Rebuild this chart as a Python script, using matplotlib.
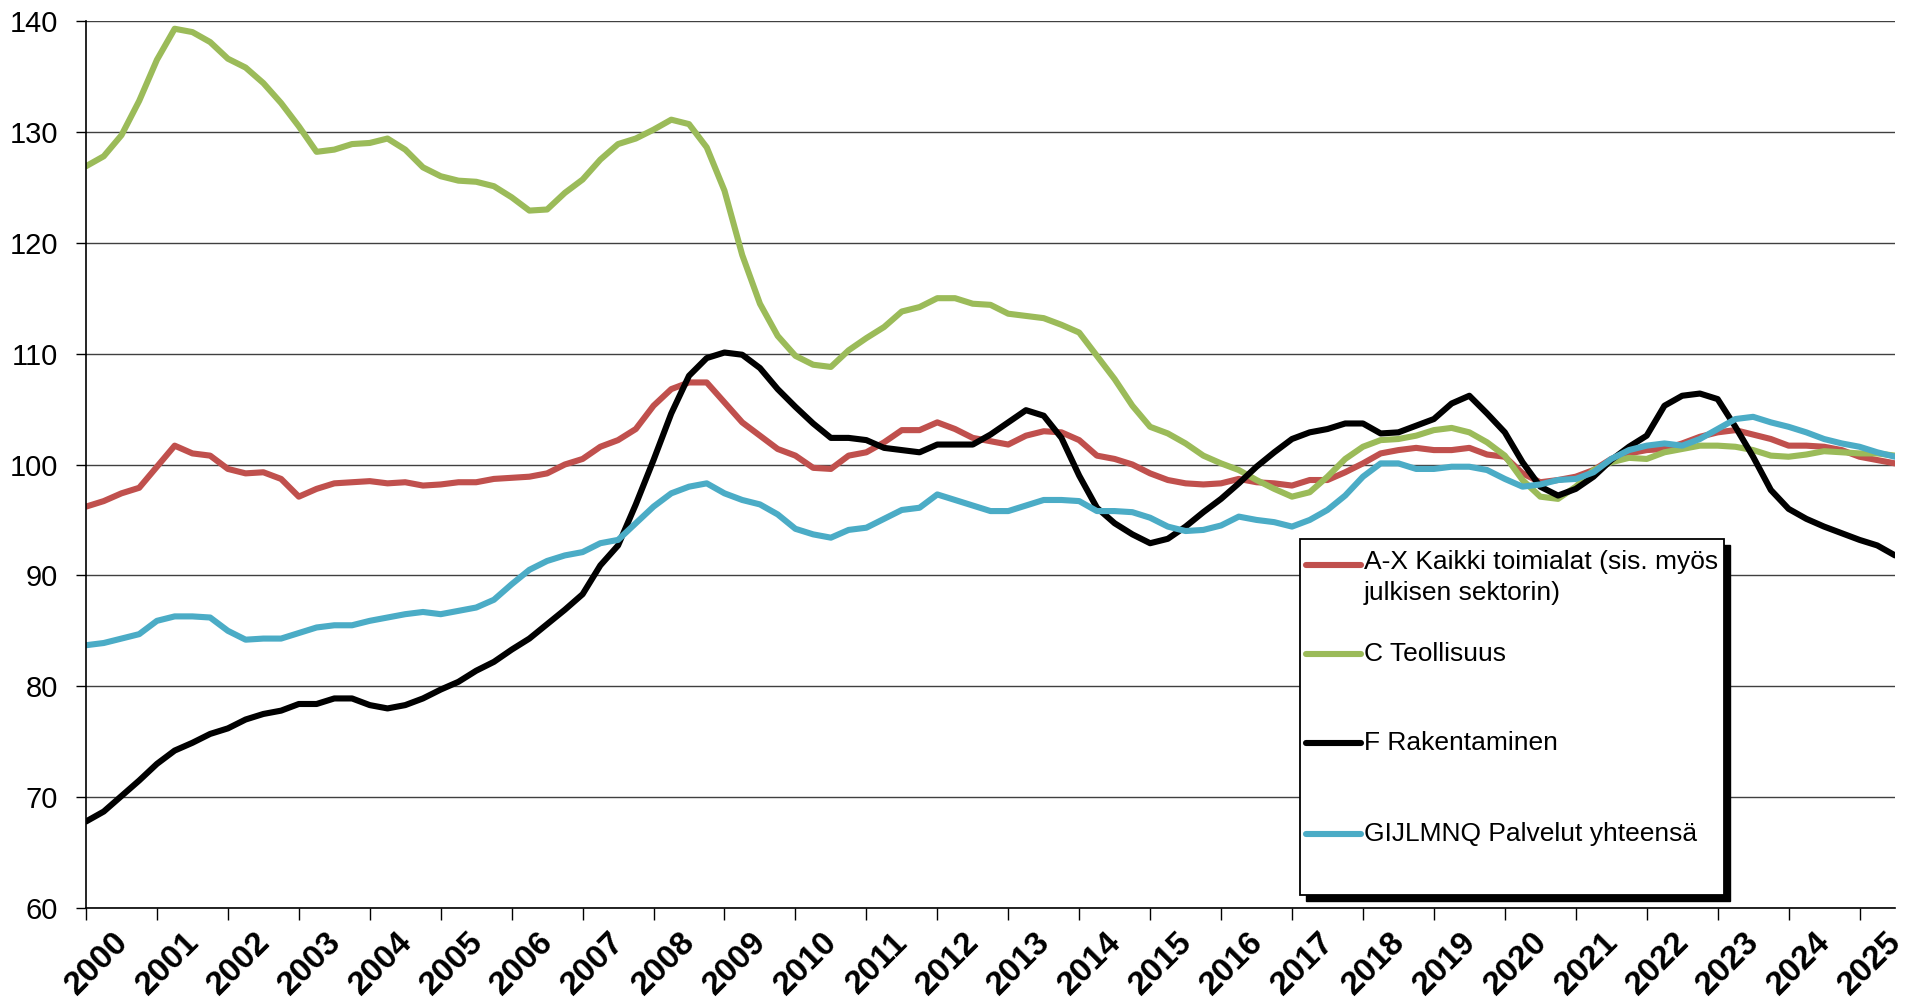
import matplotlib
matplotlib.use("Agg")
import numpy as np
import matplotlib.pyplot as plt
from matplotlib import transforms
from matplotlib.lines import Line2D
from matplotlib.patches import Rectangle

# quarterly readings, 2000Q1 .. 2025Q3 start
labels = ["A-X Kaikki toimialat (sis. myös\njulkisen sektorin)",
          "C Teollisuus",
          "F Rakentaminen",
          "GIJLMNQ Palvelut yhteensä"]
colors = ["#C0504D", "#9BBB59", "#000000", "#4BACC6"]

kaikki = [96.2, 96.7, 97.4, 97.9,
          99.8, 101.7, 101.0, 100.8,
          99.6, 99.2, 99.3, 98.7,
          97.1, 97.8, 98.3, 98.4,
          98.5, 98.3, 98.4, 98.1,
          98.2, 98.4, 98.4, 98.7,
          98.8, 98.9, 99.2, 100.0,
          100.5, 101.6, 102.2, 103.2,
          105.3, 106.8, 107.4, 107.4,
          105.6, 103.8, 102.6, 101.4,
          100.8, 99.7, 99.6, 100.8,
          101.1, 102.0, 103.1, 103.1,
          103.8, 103.2, 102.4, 102.1,
          101.8, 102.6, 103.0, 102.9,
          102.2, 100.8, 100.5, 100.0,
          99.2, 98.6, 98.3, 98.2,
          98.3, 98.7, 98.4, 98.3,
          98.1, 98.6, 98.6, 99.3,
          100.1, 101.0, 101.3, 101.5,
          101.3, 101.3, 101.5, 100.9,
          100.7, 99.2, 98.4, 98.6,
          98.9, 99.5, 100.5, 101.0,
          101.3, 101.4, 101.9, 102.5,
          102.9, 103.1, 102.7, 102.3,
          101.7, 101.7, 101.6, 101.3,
          100.7, 100.4, 100.1]

teollisuus = [126.9, 127.8, 129.7, 132.8,
              136.5, 139.3, 139.0, 138.1,
              136.6, 135.8, 134.4, 132.6,
              130.5, 128.2, 128.4, 128.9,
              129.0, 129.4, 128.4, 126.8,
              126.0, 125.6, 125.5, 125.1,
              124.1, 122.9, 123.0, 124.5,
              125.7, 127.5, 128.9, 129.4,
              130.2, 131.1, 130.7, 128.6,
              124.7, 118.9, 114.5, 111.6,
              109.8, 109.0, 108.8, 110.3,
              111.4, 112.4, 113.8, 114.2,
              115.0, 115.0, 114.5, 114.4,
              113.6, 113.4, 113.2, 112.6,
              111.9, 109.8, 107.7, 105.3,
              103.4, 102.8, 101.9, 100.8,
              100.1, 99.5, 98.6, 97.8,
              97.1, 97.5, 98.9, 100.5,
              101.6, 102.2, 102.3, 102.6,
              103.1, 103.3, 102.9, 102.0,
              100.8, 98.6, 97.1, 96.9,
              98.0, 99.5, 100.2, 100.6,
              100.5, 101.1, 101.4, 101.7,
              101.7, 101.6, 101.3, 100.8,
              100.7, 100.9, 101.2, 101.1,
              101.0, 101.0, 100.8]

rakentaminen = [67.8, 68.7, 70.1, 71.5,
                73.0, 74.2, 74.9, 75.7,
                76.2, 77.0, 77.5, 77.8,
                78.4, 78.4, 78.9, 78.9,
                78.3, 78.0, 78.3, 78.9,
                79.7, 80.4, 81.4, 82.2,
                83.3, 84.3, 85.6, 86.9,
                88.3, 90.9, 92.7, 96.4,
                100.4, 104.6, 108.0, 109.6,
                110.1, 109.9, 108.7, 106.8,
                105.2, 103.7, 102.4, 102.4,
                102.2, 101.5, 101.3, 101.1,
                101.8, 101.8, 101.8, 102.7,
                103.8, 104.9, 104.4, 102.4,
                99.0, 96.1, 94.7, 93.7,
                92.9, 93.3, 94.4, 95.7,
                96.9, 98.3, 99.8, 101.1,
                102.3, 102.9, 103.2, 103.7,
                103.7, 102.8, 102.9, 103.5,
                104.1, 105.5, 106.2, 104.6,
                102.9, 100.2, 98.0, 97.2,
                97.8, 98.9, 100.4, 101.6,
                102.6, 105.3, 106.2, 106.4,
                105.9, 103.4, 100.7, 97.7,
                96.0, 95.1, 94.4, 93.8,
                93.2, 92.7, 91.8]

palvelut = [83.7, 83.9, 84.3, 84.7,
            85.9, 86.3, 86.3, 86.2,
            85.0, 84.2, 84.3, 84.3,
            84.8, 85.3, 85.5, 85.5,
            85.9, 86.2, 86.5, 86.7,
            86.5, 86.8, 87.1, 87.8,
            89.2, 90.5, 91.3, 91.8,
            92.1, 92.9, 93.2, 94.7,
            96.2, 97.4, 98.0, 98.3,
            97.4, 96.8, 96.4, 95.5,
            94.2, 93.7, 93.4, 94.1,
            94.3, 95.1, 95.9, 96.1,
            97.3, 96.8, 96.3, 95.8,
            95.8, 96.3, 96.8, 96.8,
            96.7, 95.8, 95.8, 95.7,
            95.2, 94.4, 94.0, 94.1,
            94.5, 95.3, 95.0, 94.8,
            94.4, 95.0, 95.9, 97.2,
            98.9, 100.1, 100.1, 99.6,
            99.6, 99.8, 99.8, 99.5,
            98.7, 98.0, 98.2, 98.6,
            98.7, 99.3, 100.5, 101.3,
            101.7, 101.9, 101.7, 102.3,
            103.2, 104.1, 104.3, 103.8,
            103.4, 102.9, 102.3, 101.9,
            101.6, 101.1, 100.7]

years = list(range(2000, 2026))
series = [kaikki, teollisuus, rakentaminen, palvelut]
t = 2000 + np.arange(len(kaikki)) / 4.0

FONT = ["Liberation Sans", "DejaVu Sans"]
LW = 4.4

W, H = 1917, 1007
fig = plt.figure(figsize=(W / 100, H / 100), dpi=100)
ax = fig.add_axes([86 / W, 1 - 908 / H, (1895 - 86) / W, (908 - 21) / H])

for vals, col in zip(series, colors):
    ax.plot(t, vals, color=col, lw=LW, solid_joinstyle="round", solid_capstyle="round")

ax.set_xlim(2000, 2025.5)
ax.set_ylim(60, 140)
ax.set_yticks(range(60, 141, 10))
ax.set_xticks(years)
ax.grid(axis="y", color="#404040", lw=1.0)
ax.grid(axis="x", visible=False)
ax.set_axisbelow(True)
for s in ["top", "right"]:
    ax.spines[s].set_visible(False)
for s in ["left", "bottom"]:
    ax.spines[s].set_color("black")
    ax.spines[s].set_linewidth(1.2)

ax.tick_params(axis="y", direction="out", length=7, width=1, pad=13, labelsize=21)
ax.tick_params(axis="x", direction="out", length=8.5, width=1, pad=5)
for lab in ax.get_yticklabels():
    lab.set_fontfamily(FONT)

ax.set_xticklabels([str(y) for y in years], rotation=45, ha="center", va="top",
                   fontsize=24, fontweight="bold", family=FONT)
shift = transforms.ScaledTranslation(11 / 100, 0, fig.dpi_scale_trans)
for lab in ax.get_xticklabels():
    lab.set_transform(lab.get_transform() + shift)

# legend box drawn like the Excel one (pixel layout)
def fx(px):
    return px / W

def fy(py):
    return 1 - py / H

bx0, bx1, by0, by1 = 1300, 1724, 539, 895
fig.add_artist(Rectangle((fx(bx0 + 6), fy(by1 + 6)), (bx1 - bx0) / W, (by1 - by0) / H,
                         transform=fig.transFigure, fc="black", ec="black", zorder=5))
fig.add_artist(Rectangle((fx(bx0), fy(by1)), (bx1 - bx0) / W, (by1 - by0) / H,
                         transform=fig.transFigure, fc="white", ec="black", lw=1.3, zorder=6))
entry_y = [565, 654, 743, 834]
for lab, col, yy in zip(labels, colors, entry_y):
    fig.add_artist(Line2D([fx(1306), fx(1361)], [fy(yy), fy(yy)], transform=fig.transFigure,
                          color=col, lw=LW, solid_capstyle="round", zorder=7))
    if "\n" in lab:
        fig.text(fx(1364), fy(yy - 15), lab, ha="left", va="top", fontsize=19,
                 family=FONT, zorder=7, linespacing=1.35)
    else:
        fig.text(fx(1364), fy(yy), lab, ha="left", va="center", fontsize=19,
                 family=FONT, zorder=7)

fig.savefig("out.png", dpi=100)
